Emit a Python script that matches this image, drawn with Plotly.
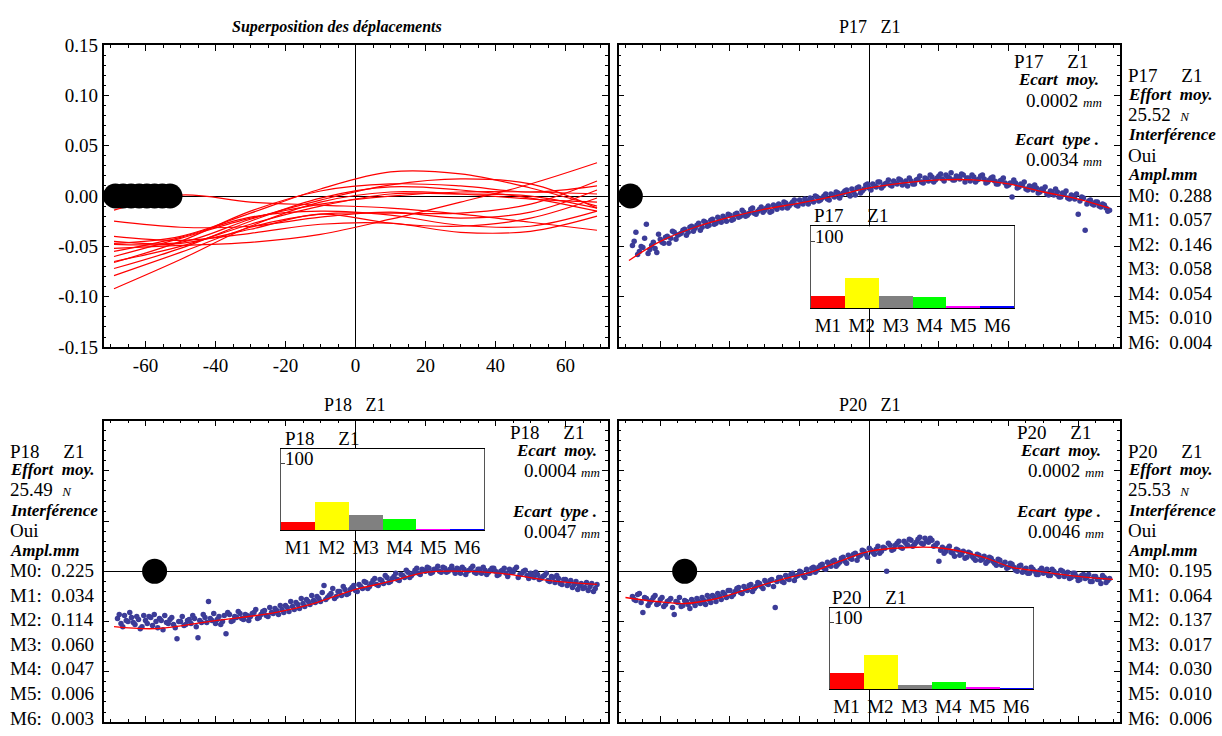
import plotly.graph_objects as go

W, H = 1222, 736
SERIF = "Liberation Serif, Times New Roman, serif"

# ---------------- data : superposition panel ----------------
curve_x = [-69, -50, -30, -10, 10, 30, 50, 69]
curve_a = [-0.014, 0.001, -0.006, -0.009, -0.012, -0.018, -0.026, -0.034]
curve_b = [-0.025, -0.031, -0.030, -0.021, -0.016, -0.022, -0.016, 0.006]
curve_c = [-0.040, -0.044, -0.037, -0.028, -0.027, -0.036, -0.035, -0.020]
curve_d = [-0.045, -0.046, -0.023, -0.004, 0.011, 0.017, 0.012, -0.012]
curve_e = [-0.047, -0.040, -0.017, 0.007, 0.024, 0.022, 0.008, -0.010]
curve_f = [-0.052, -0.049, -0.046, -0.038, -0.023, -0.006, 0.012, 0.033]
curve_g = [-0.055, -0.041, -0.021, -0.015, -0.019, -0.029, -0.030, -0.015]
curve_h = [-0.065, -0.050, -0.028, -0.010, 0.002, 0.002, 0.000, -0.012]
curve_i = [-0.066, -0.045, -0.015, 0.005, 0.012, 0.010, 0.004, 0.010]
curve_j = [-0.072, -0.052, -0.025, -0.002, 0.009, 0.006, -0.002, -0.015]
curve_k = [-0.079, -0.056, -0.031, -0.018, -0.017, -0.017, -0.008, 0.015]
curve_l = [-0.092, -0.063, -0.030, -0.006, 0.004, 0.002, -0.003, -0.006]
curve_m = [-0.048, -0.047, -0.033, -0.018, -0.027, -0.030, -0.022, -0.002]
curve_n = [-0.060, -0.042, -0.022, -0.008, 0.000, 0.004, 0.004, 0.002]
curves = [curve_a, curve_b, curve_c, curve_d, curve_e, curve_f, curve_g,
          curve_h, curve_i, curve_j, curve_k, curve_l, curve_m, curve_n]
probe_x = [-68.6, -66.4, -64.1, -61.8, -59.6, -57.4, -55.2, -53.0]

# ---------------- data : measured points ----------------
pt_x = list(range(-68, 70))               # -68 .. 69
pt_x2 = [k + 0.5 for k in range(-68, 69)]  # -67.5 .. 68.5

p17_y = [
    -0.049, -0.036, -0.055, -0.051, -0.028, -0.053, -0.046, -0.056,
    -0.043, -0.047, -0.040, -0.042, -0.036, -0.039, -0.037, -0.033, -0.036, -0.030,
    -0.032, -0.027, -0.031, -0.026, -0.029, -0.023, -0.027, -0.024, -0.020, -0.025,
    -0.019, -0.023, -0.017, -0.020, -0.016, -0.019, -0.013, -0.017, -0.015, -0.011,
    -0.014, -0.010, -0.015, -0.011, -0.008, -0.012, -0.007, -0.010, -0.006, -0.009,
    -0.004, -0.008, -0.005, -0.002, -0.006, -0.001, -0.004, 0.000, -0.003, 0.002,
    -0.001, 0.003, 0.001, 0.005, 0.002, 0.007, 0.001, 0.009, 0.005, 0.011,
    0.008, 0.012, 0.009, 0.014, 0.010, 0.013, 0.011, 0.015, 0.012, 0.016,
    0.013, 0.010, 0.015, 0.012, 0.017, 0.014, 0.018, 0.015, 0.019, 0.016,
    0.020, 0.017, 0.021, 0.018, 0.016, 0.020, 0.017, 0.021, 0.018, 0.015,
    0.019, 0.016, 0.020, 0.017, 0.014, 0.018, 0.015, 0.012, 0.016, 0.013,
    0.011, -0.001, 0.013, 0.009, 0.011, 0.007, 0.010, 0.006, 0.008, 0.004,
    0.006, 0.002, 0.005, 0.001, 0.004, -0.001, 0.002, -0.002, 0.001, -0.003,
    -0.018, -0.001, -0.034, -0.005, -0.008, -0.006, -0.010, -0.008, -0.012, -0.014,
]
p17_y2 = [
    -0.045, -0.058, -0.050, -0.042, -0.057, -0.049, -0.052, -0.038,
    -0.046, -0.041, -0.047, -0.035, -0.043, -0.038, -0.034, -0.039, -0.031, -0.035,
    -0.029, -0.034, -0.025, -0.030, -0.024, -0.028, -0.021, -0.026, -0.022, -0.018,
    -0.024, -0.018, -0.021, -0.014, -0.020, -0.017, -0.012, -0.018, -0.013, -0.016,
    -0.012, -0.016, -0.009, -0.013, -0.010, -0.006, -0.012, -0.008, -0.004, -0.010,
    -0.007, -0.003, -0.008, -0.004, 0.000, -0.005, -0.002, 0.002, -0.004, 0.001,
    0.004, -0.002, 0.003, 0.006, 0.000, 0.004, 0.008, 0.003, 0.007, 0.012,
    0.006, 0.010, 0.014, 0.008, 0.012, 0.016, 0.010, 0.013, 0.017, 0.011,
    0.015, 0.018, 0.012, 0.016, 0.020, 0.013, 0.017, 0.021, 0.014, 0.018,
    0.022, 0.015, 0.019, 0.023, 0.016, 0.019, 0.022, 0.014, 0.018, 0.021,
    0.014, 0.017, 0.021, 0.013, 0.016, 0.019, 0.012, 0.015, 0.018, 0.010,
    0.013, 0.016, 0.008, 0.012, 0.014, 0.006, 0.009, 0.011, 0.003, 0.007,
    0.009, 0.001, 0.004, 0.007, -0.001, 0.003, 0.005, -0.003, 0.000, 0.002,
    -0.005, -0.002, -0.008, -0.004, -0.009, -0.006, -0.011, -0.009, -0.015,
]
p17_fit_x = [-69, -60, -50, -40, -30, -20, -10, 0, 10, 20, 30, 40, 50, 60, 69]
p17_fit_y = [-0.064, -0.045, -0.031, -0.021, -0.013, -0.007, 0.000, 0.008,
             0.013, 0.016, 0.016, 0.012, 0.004, -0.003, -0.012]

p18_y = [
    -0.047, -0.052, -0.044, -0.050, -0.046, -0.053, -0.048, -0.055,
    -0.049, -0.045, -0.054, -0.050, -0.047, -0.058, -0.051, -0.048, -0.053, -0.067,
    -0.050, -0.054, -0.049, -0.052, -0.047, -0.066, -0.051, -0.046, -0.030, -0.049,
    -0.052, -0.045, -0.050, -0.062, -0.043, -0.049, -0.046, -0.042, -0.048, -0.044,
    -0.045, -0.041, -0.047, -0.043, -0.039, -0.045, -0.041, -0.037, -0.043, -0.038,
    -0.034, -0.040, -0.035, -0.031, -0.037, -0.032, -0.028, -0.033, -0.029, -0.025,
    -0.030, -0.014, -0.026, -0.022, -0.027, -0.020, -0.024, -0.018, -0.022, -0.016,
    -0.019, -0.013, -0.017, -0.011, -0.015, -0.009, -0.013, -0.008, -0.012, -0.006,
    -0.010, -0.005, -0.008, -0.003, -0.006, -0.001, -0.004, 0.001, -0.002, 0.002,
    0.000, 0.003, -0.001, 0.002, 0.000, 0.004, -0.001, 0.002, 0.001, 0.003,
    -0.002, 0.002, 0.000, 0.003, -0.001, 0.002, -0.002, 0.001, -0.001, 0.003,
    0.000, -0.003, 0.001, -0.002, 0.002, -0.001, 0.004, -0.003, 0.000, -0.004,
    -0.002, -0.006, -0.003, -0.007, -0.004, -0.009, -0.005, -0.011, -0.007, -0.013,
    -0.008, -0.012, -0.016, -0.010, -0.014, -0.017, -0.011, -0.015, -0.020, -0.013,
]
p18_y2 = [
    -0.043, -0.055, -0.049, -0.041, -0.051, -0.045, -0.057, -0.044,
    -0.052, -0.046, -0.043, -0.056, -0.049, -0.044, -0.052, -0.046, -0.056, -0.050,
    -0.045, -0.053, -0.048, -0.044, -0.055, -0.049, -0.043, -0.051, -0.047, -0.042,
    -0.048, -0.053, -0.044, -0.041, -0.050, -0.045, -0.040, -0.047, -0.043, -0.049,
    -0.042, -0.038, -0.046, -0.040, -0.044, -0.036, -0.042, -0.039, -0.034, -0.041,
    -0.036, -0.030, -0.038, -0.033, -0.027, -0.035, -0.030, -0.024, -0.031, -0.027,
    -0.021, -0.028, -0.024, -0.017, -0.025, -0.020, -0.015, -0.023, -0.018, -0.014,
    -0.020, -0.015, -0.010, -0.017, -0.012, -0.007, -0.014, -0.009, -0.004, -0.011,
    -0.007, -0.002, -0.009, -0.004, 0.001, -0.006, -0.002, 0.003, -0.003, 0.001,
    0.004, -0.002, 0.002, 0.005, -0.001, 0.003, 0.000, 0.005, -0.002, 0.002,
    0.004, -0.003, 0.001, 0.005, -0.002, 0.002, 0.004, -0.003, 0.001, 0.003,
    -0.004, 0.000, 0.003, -0.005, -0.001, 0.002, -0.006, -0.002, 0.001, -0.007,
    -0.004, -0.001, -0.008, -0.005, -0.002, -0.010, -0.006, -0.004, -0.012, -0.008,
    -0.014, -0.009, -0.013, -0.018, -0.012, -0.016, -0.019, -0.012, -0.017,
]
p18_fit_x = [-69, -57, -40, -23, -12, 0, 10, 20, 32, 44, 55, 69]
p18_fit_y = [-0.055, -0.057, -0.049, -0.041, -0.032, -0.018, -0.010, -0.001,
             0.000, -0.003, -0.009, -0.013]

p20_y = [
    -0.025, -0.029, -0.022, -0.041, -0.027, -0.031, -0.026, -0.033,
    -0.028, -0.035, -0.030, -0.027, -0.043, -0.031, -0.035, -0.029, -0.033, -0.028,
    -0.034, -0.030, -0.026, -0.033, -0.028, -0.024, -0.030, -0.025, -0.021, -0.026,
    -0.019, -0.023, -0.017, -0.021, -0.015, -0.019, -0.013, -0.017, -0.011, -0.015,
    -0.009, -0.013, -0.008, -0.036, -0.006, -0.010, -0.004, -0.008, -0.002, -0.005,
    0.000, -0.004, 0.002, -0.002, 0.004, 0.001, 0.006, 0.003, 0.009, 0.005,
    0.011, 0.007, 0.013, 0.010, 0.016, 0.012, 0.018, 0.015, 0.021, 0.017,
    0.023, 0.019, 0.022, 0.018, 0.024, 0.000, 0.026, 0.022, 0.028, 0.024,
    0.030, 0.026, 0.031, 0.027, 0.032, 0.028, 0.033, 0.029, 0.031, 0.026,
    0.010, 0.024, 0.020, 0.025, 0.018, 0.022, 0.016, 0.020, 0.014, 0.018,
    0.013, 0.017, 0.011, 0.015, 0.010, 0.013, 0.008, 0.012, 0.006, 0.009,
    0.004, 0.007, 0.001, 0.005, -0.001, 0.003, -0.002, 0.002, -0.003, 0.001,
    -0.002, 0.002, -0.004, 0.000, -0.003, 0.001, -0.005, -0.001, -0.006, -0.002,
    -0.009, -0.004, -0.007, -0.003, -0.010, -0.005, -0.008, -0.004, -0.011, -0.007,
]
p20_y2 = [
    -0.028, -0.023, -0.031, -0.026, -0.034, -0.029, -0.024, -0.032,
    -0.026, -0.033, -0.029, -0.036, -0.030, -0.026, -0.034, -0.030, -0.037, -0.031,
    -0.027, -0.032, -0.029, -0.024, -0.031, -0.026, -0.022, -0.028, -0.023, -0.019,
    -0.025, -0.020, -0.016, -0.022, -0.018, -0.014, -0.020, -0.015, -0.012, -0.017,
    -0.012, -0.009, -0.015, -0.010, -0.006, -0.011, -0.007, -0.003, -0.009, -0.004,
    -0.001, -0.006, -0.002, 0.003, -0.001, 0.004, 0.007, 0.002, 0.006, 0.010,
    0.005, 0.009, 0.014, 0.008, 0.013, 0.017, 0.011, 0.016, 0.020, 0.014,
    0.021, 0.017, 0.025, 0.020, 0.023, 0.028, 0.021, 0.026, 0.030, 0.023,
    0.028, 0.032, 0.025, 0.029, 0.034, 0.027, 0.030, 0.033, 0.025, 0.028,
    0.021, 0.018, 0.023, 0.019, 0.015, 0.021, 0.017, 0.013, 0.019, 0.015,
    0.011, 0.016, 0.012, 0.008, 0.014, 0.010, 0.006, 0.011, 0.007, 0.003,
    0.008, 0.004, 0.000, 0.006, 0.002, -0.002, 0.004, 0.000, -0.003, 0.003,
    -0.001, -0.004, 0.002, -0.002, -0.005, 0.000, -0.003, -0.007, -0.002, -0.005,
    -0.008, -0.003, -0.006, -0.010, -0.005, -0.008, -0.012, -0.006, -0.009,
]
p20_fit_x = [-70, -61, -53, -45, -35, -24, -16, -7, 0, 14, 21, 32, 41, 49, 60, 70]
p20_fit_y = [-0.026, -0.030, -0.032, -0.028, -0.018, -0.007, 0.000, 0.012,
             0.020, 0.024, 0.023, 0.015, 0.004, 0.000, -0.005, -0.008]

p17_probe = -68.6
p18_probe = -57.4
p20_probe = -53.0

# ---------------- data : amplitudes and statistics ----------------
mode_labels = ["M1", "M2", "M3", "M4", "M5", "M6"]
mode_colors = ["#ff0000", "#ffff00", "#808080", "#00ff00", "#ff00ff", "#0000ff"]
p17_ampl = [0.288, 0.057, 0.146, 0.058, 0.054, 0.010, 0.004]   # M0..M6
p18_ampl = [0.225, 0.034, 0.114, 0.060, 0.047, 0.006, 0.003]
p20_ampl = [0.195, 0.064, 0.137, 0.017, 0.030, 0.010, 0.006]
p17_stats = {"effort": "25.52", "moy": "0.0002", "type": "0.0034"}
p18_stats = {"effort": "25.49", "moy": "0.0004", "type": "0.0047"}
p20_stats = {"effort": "25.53", "moy": "0.0002", "type": "0.0046"}
zone = "Z1"
interf = "Oui"

x_tick_vals = [-60, -40, -20, 0, 20, 40, 60]
x_tick_text = ["-60", "-40", "-20", "0", "20", "40", "60"]
y_tick_vals = [-0.15, -0.10, -0.05, 0.00, 0.05, 0.10, 0.15]
y_tick_text = ["-0.15", "-0.10", "-0.05", "0.00", "0.05", "0.10", "0.15"]

# ---------------- helpers ----------------
def pxx(p):
    return p / W


def pxy(p):
    return 1 - p / H


NB = "\u00a0"
RED = "#ff0000"
DOT = "#3c3c98"
FS = 19
FONT = dict(family=SERIF, size=FS, color="black")

fig = go.Figure()

# top-left : superposition
for cy in curves:
    fig.add_trace(go.Scatter(x=curve_x, y=cy, mode="lines", line=dict(color=RED, width=1.2, shape="spline"),
                             xaxis="x", yaxis="y", hoverinfo="skip"))
fig.add_trace(go.Scatter(x=probe_x, y=[0] * len(probe_x), mode="markers",
                         marker=dict(color="black", size=25), xaxis="x", yaxis="y"))

panel_defs = [
    ("x2", "y2", p17_y, p17_y2, p17_fit_x, p17_fit_y, p17_probe),
    ("x3", "y3", p18_y, p18_y2, p18_fit_x, p18_fit_y, p18_probe),
    ("x4", "y4", p20_y, p20_y2, p20_fit_x, p20_fit_y, p20_probe),
]
for xa, ya, py, py2, fx, fy, pr in panel_defs:
    fig.add_trace(go.Scatter(x=pt_x, y=py, mode="markers", marker=dict(color=DOT, size=5.5),
                             xaxis=xa, yaxis=ya))
    fig.add_trace(go.Scatter(x=pt_x2, y=py2, mode="markers", marker=dict(color=DOT, size=5.5),
                             xaxis=xa, yaxis=ya))
    fig.add_trace(go.Scatter(x=fx, y=fy, mode="lines", line=dict(color=RED, width=1.3, shape="spline"),
                             xaxis=xa, yaxis=ya))
    fig.add_trace(go.Scatter(x=[pr], y=[0], mode="markers", marker=dict(color="black", size=25),
                             xaxis=xa, yaxis=ya))

# insets: bars as percentage of sum of M1..M6
for xa, ya, amp in [("x5", "y5", p17_ampl), ("x6", "y6", p18_ampl), ("x7", "y7", p20_ampl)]:
    tot = sum(amp[1:])
    pct = [v / tot * 100 for v in amp[1:]]
    fig.add_trace(go.Bar(x=mode_labels, y=pct, marker=dict(color=mode_colors, line=dict(width=0)),
                         width=1, xaxis=xa, yaxis=ya))


def main_x(dom, anchor, labels):
    return dict(domain=dom, anchor=anchor, range=[-72, 72], tickmode="array", tickvals=x_tick_vals,
                ticktext=x_tick_text, showticklabels=labels, ticks="inside", ticklen=6, tickwidth=1,
                tickcolor="black", showline=True, mirror="ticks", linecolor="black", linewidth=1.5,
                zeroline=True, zerolinecolor="black", zerolinewidth=1, showgrid=False, tickfont=FONT,
                minor=dict(tickmode="linear", tick0=0, dtick=5, ticks="inside", ticklen=3,
                           tickwidth=1, tickcolor="black", showgrid=False))


def main_y(dom, anchor, labels):
    return dict(domain=dom, anchor=anchor, range=[-0.15, 0.15], tickmode="array", tickvals=y_tick_vals,
                ticktext=y_tick_text, showticklabels=labels, ticks="inside", ticklen=6, tickwidth=1,
                tickcolor="black", showline=True, mirror="ticks", linecolor="black", linewidth=1.5,
                zeroline=True, zerolinecolor="black", zerolinewidth=1, showgrid=False, tickfont=FONT,
                minor=dict(tickmode="linear", tick0=0, dtick=0.01, ticks="inside", ticklen=3,
                           tickwidth=1, tickcolor="black", showgrid=False))


def inset_x(dom, anchor):
    return dict(domain=dom, anchor=anchor, type="category", range=[-0.5, 5.5], showline=True, mirror=True,
                linecolor="black", linewidth=1, ticks="", showgrid=False, zeroline=False, tickfont=FONT)


def inset_y(dom, anchor):
    return dict(domain=dom, anchor=anchor, range=[0, 122], tickmode="array", tickvals=[100],
                showticklabels=False, ticks="inside", ticklen=4, tickcolor="#444",
                showline=True, mirror=True, linecolor="#555", linewidth=1, showgrid=False,
                zeroline=False, tickfont=FONT)


xL = [pxx(103.5), pxx(607.5)]
xR = [pxx(618.5), pxx(1120)]
yT = [pxy(347), pxy(36)]
yB = [pxy(733), pxy(422.7)]

inset_boxes = {  # left, right, top, bottom in pixels
    "5": (811, 1014, 222.7, 306.7),
    "6": (281, 484, 451.7, 535.7),
    "7": (829.5, 1033, 615.7, 699.3),
}

layout = dict(
    width=W, height=H, margin=dict(l=0, r=0, t=0, b=0), paper_bgcolor="white", plot_bgcolor="white",
    showlegend=False, bargap=0, font=FONT,
    xaxis=main_x(xL, "y", True), yaxis=main_y(yT, "x", True),
    xaxis2=main_x(xR, "y2", False), yaxis2=main_y(yT, "x2", False),
    xaxis3=main_x(xL, "y3", False), yaxis3=main_y(yB, "x3", False),
    xaxis4=main_x(xR, "y4", False), yaxis4=main_y(yB, "x4", False),
)
for k, (l, r, t, b) in inset_boxes.items():
    layout["xaxis" + k] = inset_x([pxx(l), pxx(r)], "y" + k)
    layout["yaxis" + k] = inset_y([pxy(b), pxy(t)], "x" + k)

ann = []


def T(px, py, text, xanchor="left", size=FS, bi=False):
    if bi:
        text = "<b><i>" + text + "</i></b>"
    ann.append(dict(x=pxx(px), y=pxy(py), xref="paper", yref="paper", text=text, showarrow=False,
                    xanchor=xanchor, yanchor="middle", borderpad=0,
                    font=dict(family=SERIF, size=size, color="black")))


def unit(u):
    return "<i><span style='font-size:13px'>" + u + "</span></i>"


# titles
T(337, 18, "Superposition des déplacements", "center", 16, True)
T(870, 18, "P17" + NB * 3 + zone, "center", 18)
T(355, 407, "P18" + NB * 3 + zone, "center", 18)
T(870, 407, "P20" + NB * 3 + zone, "center", 18)

BI = 17


def side_block(x0, y0, name, stats, amp):
    T(x0, y0 - 123, name + NB * 5 + zone)
    T(x0, y0 - 104, "Effort" + NB * 2 + "moy.", size=BI, bi=True)
    T(x0, y0 - 83, stats["effort"] + NB * 2 + unit("N"))
    T(x0, y0 - 62, "Interférence", size=BI, bi=True)
    T(x0, y0 - 41, interf)
    T(x0, y0 - 21, "Ampl.mm", size=BI, bi=True)
    for i, v in enumerate(amp):
        T(x0, y0 + i * 25.3, "M%d:%s%.3f" % (i, NB * 2, v))


side_block(1127, 190.5, "P17", p17_stats, p17_ampl)
side_block(9, 577, "P18", p18_stats, p18_ampl)
side_block(1127, 577, "P20", p20_stats, p20_ampl)


def ecart_block(xl, xr, ys, name, stats):
    T(xl, ys[0], name + NB * 5 + zone)
    T(xr, ys[1], "Ecart" + NB * 2 + "moy.", "right", size=BI, bi=True)
    T(xr + 3, ys[2], stats["moy"] + NB + unit("mm"), "right")
    T(xr, ys[3], "Ecart" + NB * 2 + "type" + NB + ".", "right", size=BI, bi=True)
    T(xr + 3, ys[4], stats["type"] + NB + unit("mm"), "right")


ecart_block(1013, 1100, [53, 72, 93, 133, 154], "P17", p17_stats)
ecart_block(509, 598, [435, 453, 474, 516, 537], "P18", p18_stats)
ecart_block(1016, 1102, [435, 453, 474, 516, 537], "P20", p20_stats)

# inset labels and "100" tick labels
T(813, 212, "P17" + NB * 5 + zone)
T(284, 441, "P18" + NB * 5 + zone)
T(831, 605, "P20" + NB * 5 + zone)
for k, (l, r, t, b) in inset_boxes.items():
    T(l + 3, t + 10, "100")

layout["annotations"] = ann
fig.update_layout(**layout)
fig.write_html("out.html",
               post_script="document.body.style.margin='0';document.body.style.overflow='hidden';",
               config={"displayModeBar": False})
